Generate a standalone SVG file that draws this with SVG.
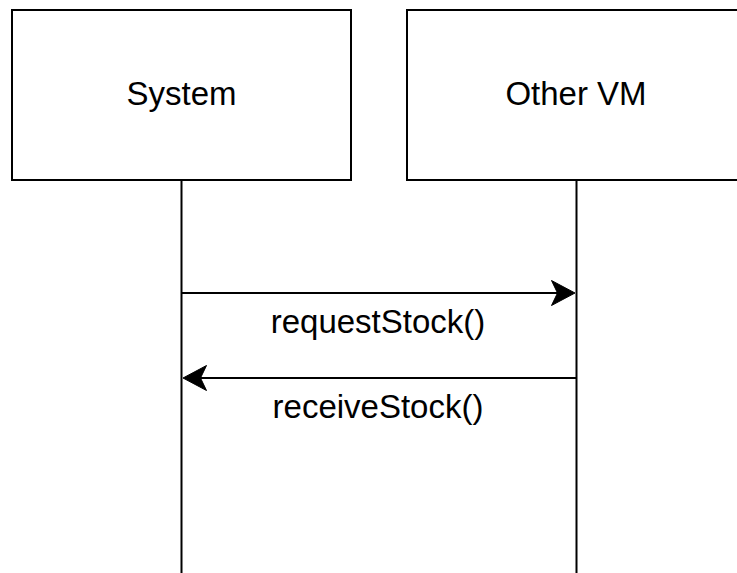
<svg xmlns="http://www.w3.org/2000/svg" width="737" height="573" viewBox="0 0 737 573">
<style>
.box{fill:#fff;stroke:#000;stroke-width:2}
.line{fill:none;stroke:#000;stroke-width:2}
.head{fill:#000;stroke:#000;stroke-width:1}
text{font-family:"Liberation Sans",Arial,sans-serif;font-size:33px;fill:#000;text-anchor:middle}
</style>
<rect width="737" height="573" fill="#fff"/>
<g id="connectors">
<line class="line" x1="181.5" y1="180" x2="181.5" y2="573"/>
<line class="line" x1="576.5" y1="180" x2="576.5" y2="573"/>
<g id="msg-request">
<line class="line" x1="181.5" y1="293" x2="560" y2="293"/>
<path class="head" d="M575,293 L551.5,280.5 L557.5,293 L551.5,305.5 Z"/>
<text x="378" y="333">requestStock()</text>
</g>
<g id="msg-receive">
<line class="line" x1="576.5" y1="378" x2="198" y2="378"/>
<path class="head" d="M183,378 L206.5,365.5 L200.5,378 L206.5,390.5 Z"/>
<text x="378" y="418">receiveStock()</text>
</g>
</g>
<g id="system">
<rect class="box" x="12" y="10" width="339" height="170"/>
<text x="181.5" y="105">System</text>
</g>
<g id="othervm">
<rect class="box" x="407" y="10" width="339" height="170"/>
<text x="576" y="105">Other VM</text>
</g>
</svg>
